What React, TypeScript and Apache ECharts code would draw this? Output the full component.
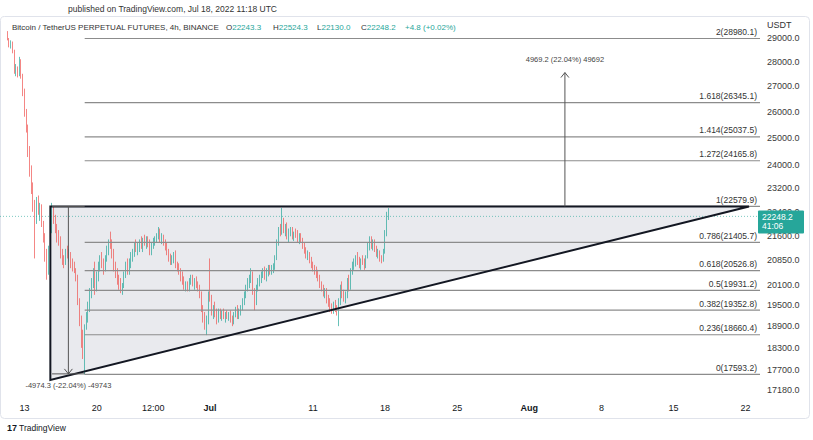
import React, { useEffect, useRef } from "react";
import * as echarts from "echarts";

const FONT = "'Liberation Sans', Arial, sans-serif";
const UP = "#26a69a";
const DOWN = "#ef5350";

// 4h candles, first one Jun 11 2022 08:00 UTC
const START = Date.UTC(2022, 5, 11, 8);
const STEP = 4 * 3600 * 1000;

const opens = [
  29080, 28950, 28700, 28800,
  28400, 27600, 27700, 27450, 28000, 27400,
  26700, 26000, 25300, 24500, 23800, 23200,
  22600, 22200, 22700, 22400, 22550, 22000,
  21500, 21000, 20500, 21200, 21800, 22400,
  22200, 21900, 21600, 21500, 21000, 20800,
  20750, 21100, 20950, 21050, 20700, 20600,
  20500, 20300, 19600, 19000, 18500, 18200,
  18900, 19200, 19500, 19900, 20200, 20500,
  20100, 20400, 20700, 20900, 20750, 20600,
  20900, 21200, 21400, 21300, 21000, 20600,
  20400, 20200, 20050, 20000, 20100, 20400,
  20700, 20500, 20800, 20950, 21100, 21300,
  21200, 21300, 21450, 21300, 21500, 21400,
  21450, 21350, 21100, 21350, 21450, 21500,
  21600, 21800, 21500, 21550, 21400, 21250,
  21100, 20900, 20800, 20850, 21000, 20700,
  20600, 20500, 20300, 20200, 20050, 20100,
  20000, 20200, 20300, 20150, 20250, 20100,
  20000, 19800, 19400, 19100, 18950, 19050,
  19800, 19700, 19300, 19400, 19250, 19100,
  19300, 19200, 19300, 19150, 19250, 19200,
  19250, 19100, 19000, 19250, 19400, 19200,
  19300, 19450, 19650, 19800, 20000, 20200,
  20300, 20400, 19900, 19600, 20000, 20200,
  20300, 20400, 20500, 20350, 20500, 20600,
  20550, 20600, 20650, 20900, 21400, 21800,
  21700, 22100, 21800, 21900, 21600, 21700,
  21800, 21600, 21700, 21650, 21500, 21600,
  21450, 21300, 21150, 21000, 21050, 20850,
  20700, 20600, 20550, 20400, 20300, 20100,
  20000, 19850, 19900, 19650, 19550, 19400,
  19350, 19500, 19400, 19300, 19600, 20000,
  19800, 19700, 19800, 20200, 20000, 20500,
  20700, 20800, 20900, 20800, 20700, 20850,
  20750, 20650, 20950, 21300, 21450, 21300,
  21350, 21200, 21050, 21100, 20900, 20850,
  21100, 21700, 22243.3,
];

const highs = [
  29300, 29000, 28900, 28850,
  28500, 27900, 27800, 28200, 28100, 27500,
  26900, 26100, 25500, 24700, 24000, 23400,
  22800, 22900, 22950, 22700, 22650, 22100,
  21700, 21200, 21300, 21900, 22700, 22580,
  22300, 22000, 21800, 21600, 21200, 21000,
  21200, 21300, 21200, 21100, 20900, 20800,
  20600, 20400, 19700, 19200, 18800, 18950,
  19300, 19600, 20000, 20300, 20600, 20800,
  20500, 20800, 21000, 21100, 20900, 21000,
  21300, 21500, 21750, 21500, 21200, 20800,
  20600, 20400, 20300, 20150, 20500, 20800,
  20900, 20900, 21100, 21200, 21400, 21500,
  21400, 21500, 21600, 21550, 21650, 21600,
  21600, 21500, 21400, 21550, 21600, 21700,
  21900, 21850, 21700, 21650, 21500, 21400,
  21200, 21050, 21000, 21100, 21150, 20800,
  20750, 20600, 20500, 20350, 20200, 20200,
  20300, 20400, 20400, 20300, 20350, 20200,
  20100, 19900, 19500, 19300, 19200, 19900,
  20900, 19800, 19500, 19600, 19400, 19400,
  19400, 19350, 19400, 19300, 19350, 19300,
  19350, 19200, 19300, 19450, 19500, 19400,
  19500, 19700, 19900, 20100, 20300, 20400,
  20600, 20500, 20000, 20100, 20300, 20400,
  20500, 20600, 20650, 20600, 20700, 20700,
  20700, 20750, 21000, 21500, 21900, 22000,
  22530, 22200, 22000, 22050, 21850, 21900,
  21900, 21750, 21850, 21800, 21700, 21700,
  21550, 21400, 21250, 21150, 21100, 20950,
  20800, 20700, 20650, 20550, 20400, 20200,
  20100, 20000, 20000, 19800, 19700, 19550,
  19600, 19650, 19500, 19700, 20100, 20200,
  19950, 19900, 20300, 20400, 20600, 20800,
  20900, 21000, 21100, 20950, 20900, 21000,
  20900, 21000, 21400, 21600, 21600, 21500,
  21500, 21300, 21200, 21150, 21000, 21200,
  21800, 22400, 22524.3,
];

const lows = [
  28900, 28600, 28550, 28350,
  27500, 27400, 27350, 27400, 27300, 26600,
  25800, 25200, 24300, 23600, 23000, 22400,
  20900, 22000, 22300, 22100, 21900, 21400,
  20800, 20250, 20400, 21100, 21700, 22000,
  21700, 21400, 21300, 20900, 20700, 20600,
  20700, 20900, 20800, 20600, 20500, 20450,
  20200, 19500, 18900, 18300, 18000, 17593,
  18800, 19000, 19300, 19700, 20000, 19800,
  19900, 20200, 20500, 20600, 20400, 20500,
  20800, 21000, 21200, 20900, 20500, 20300,
  20100, 19950, 19850, 19800, 20000, 20300,
  20400, 20400, 20600, 20800, 20950, 21100,
  21000, 21100, 21200, 21100, 21300, 21200,
  21250, 21000, 21000, 21200, 21300, 21400,
  21500, 21400, 21350, 21300, 21150, 21000,
  20800, 20700, 20700, 20750, 20600, 20500,
  20400, 20200, 20100, 19950, 19900, 19900,
  19900, 20100, 20050, 19950, 20000, 19900,
  19700, 19300, 19000, 18800, 18650, 18950,
  19600, 19200, 19100, 19150, 18950, 19000,
  19100, 19050, 19100, 19000, 19100, 19050,
  19000, 18900, 18950, 19150, 19100, 19100,
  19200, 19350, 19500, 19700, 19900, 20000,
  20150, 19800, 19350, 19500, 19900, 20050,
  20150, 20300, 20250, 20200, 20350, 20400,
  20400, 20450, 20550, 20850, 21300, 21600,
  21650, 21700, 21600, 21500, 21400, 21600,
  21500, 21450, 21550, 21400, 21350, 21400,
  21200, 21050, 20900, 20850, 20750, 20600,
  20500, 20400, 20300, 20200, 20000, 19900,
  19750, 19700, 19550, 19450, 19300, 19250,
  19250, 19300, 19200, 18900, 19500, 19700,
  19600, 19550, 19700, 19900, 19950, 20400,
  20550, 20650, 20700, 20600, 20550, 20700,
  20550, 20600, 20900, 21150, 21200, 21150,
  21100, 20950, 20900, 20800, 20750, 20800,
  21050, 21600, 22130.0,
];

const closes = [
  28950, 28700, 28800, 28400,
  27600, 27700, 27450, 28000, 27400, 26700,
  26000, 25300, 24500, 23800, 23200, 22600,
  22200, 22700, 22400, 22550, 22000, 21500,
  21000, 20500, 21200, 21800, 22400, 22200,
  21900, 21600, 21500, 21000, 20800, 20750,
  21100, 20950, 21050, 20700, 20600, 20500,
  20300, 19600, 19000, 18500, 18200, 18900,
  19200, 19500, 19900, 20200, 20500, 20100,
  20400, 20700, 20900, 20750, 20600, 20900,
  21200, 21400, 21300, 21000, 20600, 20400,
  20200, 20050, 20000, 20100, 20400, 20700,
  20500, 20800, 20950, 21100, 21300, 21200,
  21300, 21450, 21300, 21500, 21400, 21450,
  21350, 21100, 21350, 21450, 21500, 21600,
  21800, 21500, 21550, 21400, 21250, 21100,
  20900, 20800, 20850, 21000, 20700, 20600,
  20500, 20300, 20200, 20050, 20100, 20000,
  20200, 20300, 20150, 20250, 20100, 20000,
  19800, 19400, 19100, 18950, 19050, 19800,
  19700, 19300, 19400, 19250, 19100, 19300,
  19200, 19300, 19150, 19250, 19200, 19250,
  19100, 19000, 19250, 19400, 19200, 19300,
  19450, 19650, 19800, 20000, 20200, 20300,
  20400, 19900, 19600, 20000, 20200, 20300,
  20400, 20500, 20350, 20500, 20600, 20550,
  20600, 20650, 20900, 21400, 21800, 21700,
  22100, 21800, 21900, 21600, 21700, 21800,
  21600, 21700, 21650, 21500, 21600, 21450,
  21300, 21150, 21000, 21050, 20850, 20700,
  20600, 20550, 20400, 20300, 20100, 20000,
  19850, 19900, 19650, 19550, 19400, 19350,
  19500, 19400, 19300, 19600, 20000, 19800,
  19700, 19800, 20200, 20000, 20500, 20700,
  20800, 20900, 20800, 20700, 20850, 20750,
  20650, 20950, 21300, 21450, 21300, 21350,
  21200, 21050, 21100, 20900, 20850, 21100,
  21700, 22250, 22248.2,
];

const priceTicks = [29000, 28000, 27000, 26000, 25000, 24000, 23200, 22400, 21600, 20850, 20100, 19500, 18900, 18300, 17700, 17180];

const dateTickTimes = [
  Date.UTC(2022, 5, 13), Date.UTC(2022, 5, 20), Date.UTC(2022, 5, 25, 12), Date.UTC(2022, 6, 1),
  Date.UTC(2022, 6, 11), Date.UTC(2022, 6, 18), Date.UTC(2022, 6, 25), Date.UTC(2022, 7, 1),
  Date.UTC(2022, 7, 8), Date.UTC(2022, 7, 15), Date.UTC(2022, 7, 22),
];
const dateTickLabels = ["13", "20", "12:00", "Jul", "11", "18", "25", "Aug", "8", "15", "22"];

const fibLevels = [2, 1.618, 1.414, 1.272, 1, 0.786, 0.618, 0.5, 0.382, 0.236, 0];
const fibPrices = [28980.1, 26345.1, 25037.5, 24165.8, 22579.9, 21405.7, 20526.8, 19931.2, 19352.8, 18660.4, 17593.2];
const FIB_START = Date.UTC(2022, 5, 18, 20);

// ascending triangle vertices [time, price]
const triangle = [
  [Date.UTC(2022, 5, 15, 12), 17450],
  [Date.UTC(2022, 5, 15, 12), 22579.9],
  [Date.UTC(2022, 7, 22, 8), 22579.9],
];

// price range measures
const downRange = { t0: Date.UTC(2022, 5, 15, 16), t1: Date.UTC(2022, 5, 18, 20), from: 22579.9, to: 17605.6, label: "-4974.3 (-22.04%) -49743" };
const upRange = { t: Date.UTC(2022, 7, 4, 11), from: 22579.9, to: 27549.1, label: "4969.2 (22.04%) 49692" };

const LAST_PRICE = 22248.2;
const COUNTDOWN = "41:06";

// legend (OHLC of the last bar)
const legendTitle = "Bitcoin / TetherUS PERPETUAL FUTURES, 4h, BINANCE";
const legendKeys = ["O", "H", "L", "C", ""];
const legendValues = ["22243.3", "22524.3", "22130.0", "22248.2", "+4.8 (+0.02%)"];

const X_MIN = Date.UTC(2022, 5, 10, 14, 40);
const X_MAX = Date.UTC(2022, 7, 23, 9, 36);
const Y_MIN = 16986;
const Y_MAX = 29876;

export default function App() {
  const ref = useRef<HTMLDivElement>(null);

  useEffect(() => {
    if (!ref.current) return;
    const chart = echarts.init(ref.current, null, { renderer: "svg" });
    const L = Math.log;
    const candles = closes.map((c, i) => [START + i * STEP, L(opens[i]), L(c), L(lows[i]), L(highs[i])]);

    const legendX = [226, 273, 317, 361, 405];
    const legendGraphics = legendKeys.map((k, i) => ({
      type: "text",
      x: legendX[i],
      y: 27,
      z: 10,
      style: {
        text: `{d|${k}}{v|${legendValues[i]}}`,
        verticalAlign: "middle",
        fontSize: 8,
        fontFamily: FONT,
        rich: {
          d: { fill: "#333", fontSize: 8, fontFamily: FONT },
          v: { fill: UP, fontSize: 8, fontFamily: FONT },
        },
      },
    }));

    const option: any = {
      animation: false,
      backgroundColor: "#ffffff",
      grid: { left: 0, right: 53, top: 18, bottom: 42, containLabel: false, outerBoundsMode: "none" },
      xAxis: {
        type: "time",
        min: X_MIN,
        max: X_MAX,
        axisLine: { show: false },
        axisTick: { show: false },
        splitLine: { show: false },
        axisLabel: { show: false },
      },
      yAxis: {
        type: "value",
        position: "right",
        min: L(Y_MIN),
        max: L(Y_MAX),
        axisLine: { show: false },
        axisTick: { show: false },
        splitLine: { show: false },
        axisLabel: {
          customValues: priceTicks.map((p) => L(p)),
          formatter: (v: number) => (Math.round(Math.exp(v) * 10) / 10).toFixed(1),
          fontSize: 9,
          fontFamily: FONT,
          color: "#3a3a3a",
          margin: 7,
        },
      },
      series: [
        {
          type: "custom",
          z: 1,
          silent: true,
          clip: false,
          data: [[triangle[0][0], L(triangle[0][1])]],
          renderItem: (params: any, api: any) => ({
            type: "polygon",
            shape: { points: triangle.map(([t, p]) => api.coord([t, L(p)])) },
            style: { fill: "#e9eaee" },
          }),
        },
        {
          type: "candlestick",
          z: 3,
          barWidth: 1.2,
          data: candles,
          itemStyle: { color: UP, color0: DOWN, borderColor: UP, borderColor0: DOWN, borderWidth: 0.7 },
        },
        {
          type: "custom",
          z: 5,
          silent: true,
          clip: false,
          data: [[FIB_START, L(LAST_PRICE)]],
          renderItem: (params: any, api: any) => {
            const cs = params.coordSys;
            const right = cs.x + cs.width;
            const bottom = cs.y + cs.height;
            const c = (t: number, p: number) => api.coord([t, L(p)]);
            const ch: any[] = [];
            // time axis labels
            dateTickTimes.forEach((t, i) => {
              const s = dateTickLabels[i];
              const x = c(t, LAST_PRICE)[0];
              ch.push({
                type: "text",
                x,
                y: bottom + 10,
                style: { text: s, align: "center", verticalAlign: "middle", fontSize: 9, fontFamily: FONT, fontWeight: s === "Jul" || s === "Aug" ? "bold" : "normal", fill: "#131722" },
              });
            });
            // last price dotted line
            const py = c(FIB_START, LAST_PRICE)[1];
            ch.push({ type: "line", shape: { x1: cs.x, y1: py, x2: right, y2: py }, style: { stroke: UP, lineWidth: 1, lineDash: [1, 2], opacity: 0.6 } });
            // fib levels
            fibPrices.forEach((p, i) => {
              const a = c(FIB_START, p);
              ch.push({ type: "line", shape: { x1: a[0], y1: a[1], x2: right, y2: a[1] }, style: { stroke: "#8c8c8c", lineWidth: 1.2 } });
              ch.push({
                type: "text",
                x: right - 3,
                y: a[1] - 2,
                style: { text: `${fibLevels[i]}(${p.toFixed(1)})`, align: "right", verticalAlign: "bottom", fontSize: 8.5, fontFamily: FONT, fill: "#333" },
              });
            });
            // triangle outline
            ch.push({
              type: "polygon",
              shape: { points: triangle.map(([t, p]) => c(t, p)) },
              style: { fill: "none", stroke: "#131722", lineWidth: 2 },
            });
            // down range measure
            const d0 = c(downRange.t0, downRange.from);
            const d1 = c(downRange.t1, downRange.to);
            const dx = (d0[0] + d1[0]) / 2;
            ch.push({ type: "line", shape: { x1: d0[0], y1: d0[1], x2: d1[0], y2: d0[1] }, style: { stroke: "#555", lineWidth: 1 } });
            ch.push({ type: "line", shape: { x1: d0[0], y1: d1[1], x2: d1[0], y2: d1[1] }, style: { stroke: "#555", lineWidth: 1 } });
            ch.push({ type: "line", shape: { x1: dx, y1: d0[1], x2: dx, y2: d1[1] }, style: { stroke: "#555", lineWidth: 1 } });
            ch.push({ type: "polyline", shape: { points: [[dx - 4, d1[1] - 5], [dx, d1[1]], [dx + 4, d1[1] - 5]] }, style: { stroke: "#555", lineWidth: 1, fill: "none" } });
            ch.push({ type: "text", x: dx, y: d1[1] + 12, style: { text: downRange.label, align: "center", verticalAlign: "middle", fontSize: 7.5, fontFamily: FONT, fill: "#444" } });
            // up range measure
            const u0 = c(upRange.t, upRange.from);
            const u1 = c(upRange.t, upRange.to);
            ch.push({ type: "line", shape: { x1: u0[0], y1: u0[1], x2: u1[0], y2: u1[1] }, style: { stroke: "#555", lineWidth: 1 } });
            ch.push({ type: "polyline", shape: { points: [[u1[0] - 4, u1[1] + 5], [u1[0], u1[1]], [u1[0] + 4, u1[1] + 5]] }, style: { stroke: "#555", lineWidth: 1, fill: "none" } });
            ch.push({ type: "text", x: u1[0], y: u1[1] - 13, style: { text: upRange.label, align: "center", verticalAlign: "middle", fontSize: 7.5, fontFamily: FONT, fill: "#444" } });
            // last price tag
            ch.push({ type: "rect", shape: { x: right - 2, y: py - 6, width: 46, height: 23, r: 1 }, style: { fill: UP } });
            ch.push({ type: "text", x: right + 2, y: py + 0.5, style: { text: LAST_PRICE.toFixed(1), align: "left", verticalAlign: "middle", fontSize: 8.5, fontFamily: FONT, fill: "#fff" } });
            ch.push({ type: "text", x: right + 2, y: py + 10, style: { text: COUNTDOWN, align: "left", verticalAlign: "middle", fontSize: 8.5, fontFamily: FONT, fill: "#fff" } });
            return { type: "group", children: ch };
          },
        },
      ],
      graphic: [
        { type: "rect", z: -1, shape: { x: 0.5, y: 16.5, width: 809, height: 402, r: 4 }, style: { fill: "none", stroke: "#e0e3eb", lineWidth: 1 } },
        { type: "text", x: 68, y: 9, style: { text: "published on TradingView.com, Jul 18, 2022 11:18 UTC", fill: "#333", fontSize: 8.5, fontFamily: FONT, verticalAlign: "middle" } },
        { type: "text", x: 12, y: 27, z: 10, style: { text: legendTitle, fill: "#333", fontSize: 8, fontFamily: FONT, verticalAlign: "middle" } },
        ...legendGraphics,
        { type: "text", x: 767, y: 25, style: { text: "USDT", fill: "#333", fontSize: 9, fontFamily: FONT, verticalAlign: "middle" } },
        { type: "text", x: 7, y: 428, style: { text: "17", fill: "#131722", fontSize: 9, fontWeight: "bold", fontFamily: FONT, verticalAlign: "middle" } },
        { type: "text", x: 19, y: 428, style: { text: "TradingView", fill: "#131722", fontSize: 8.5, fontFamily: FONT, verticalAlign: "middle" } },
      ],
    };
    chart.setOption(option);
    return () => chart.dispose();
  }, []);

  return <div ref={ref} style={{ position: "fixed", left: 0, top: 0, width: 813, height: 440, background: "#fff" }} />;
}
